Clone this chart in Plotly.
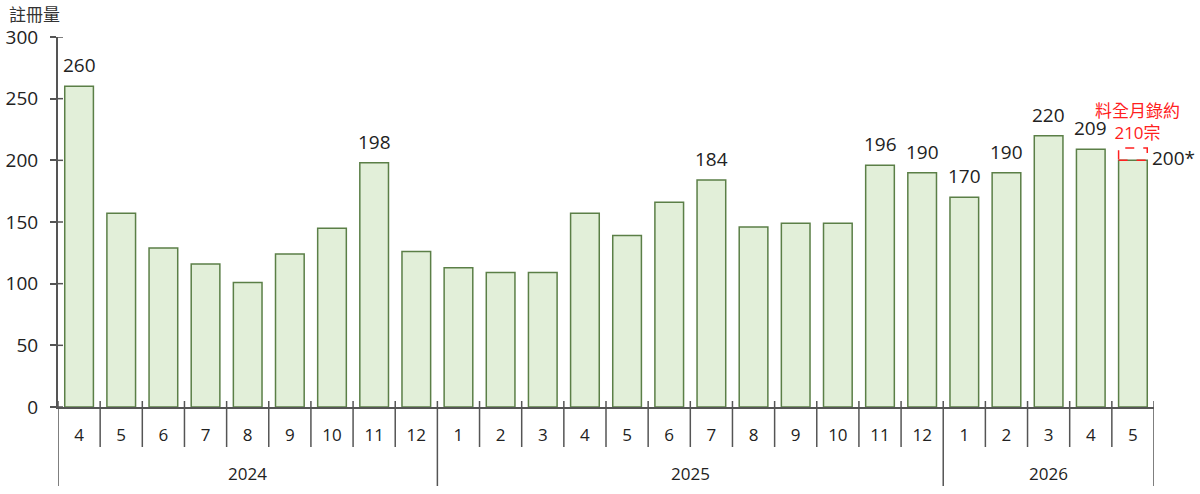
import plotly.graph_objects as go

# 每月註冊量
years = ["2024"] * 9 + ["2025"] * 12 + ["2026"] * 5
months = ["4", "5", "6", "7", "8", "9", "10", "11", "12",
          "1", "2", "3", "4", "5", "6", "7", "8", "9", "10", "11", "12",
          "1", "2", "3", "4", "5"]
values = [260, 157, 129, 116, 101, 124, 145, 198, 126,
          113, 109, 109, 157, 139, 166, 184, 146, 149, 149, 196, 190,
          170, 190, 220, 209, 200]
# 只標示部分數值
labels = ["260", "", "", "", "", "", "", "198", "",
          "", "", "", "", "", "", "184", "", "", "", "196", "190",
          "170", "190", "220", "209", ""]
last_label = "200*"
forecast = 210
forecast_text = "料全月錄約<br>210宗"
y_ticks = [0, 50, 100, 150, 200, 250, 300]

# 每個月一個唯一的類別
keys = [f"{y}-{m}" for y, m in zip(years, months)]
n = len(keys)
plot_w, plot_h = 1096.0, 370.0
axis_col = "#555555"

fig = go.Figure()
fig.add_trace(go.Bar(
    x=keys,
    y=values,
    marker=dict(color="#e2efd9", line=dict(color="#5b7f47", width=1.5)),
    hoverinfo="y",
))

for k, v, t in zip(keys, values, labels):
    if t:
        fig.add_annotation(x=k, y=v, text=t, showarrow=False,
                           yanchor="bottom", yshift=6,
                           font=dict(size=19, color="#222222"))

# 最後一個月
fig.add_annotation(x=keys[-1], y=values[-1], text=last_label,
                   showarrow=False, xanchor="left", xshift=17, yshift=2,
                   font=dict(size=19, color="#222222"))
fig.add_annotation(x=keys[-1], y=forecast, text=forecast_text,
                   showarrow=False, yanchor="bottom", yshift=2, xshift=5,
                   font=dict(size=17, color="#ff2020"))
fig.add_shape(type="rect", xref="x", yref="y",
              x0=n - 1 - 0.34, x1=n - 1 + 0.34,
              y0=values[-1], y1=forecast,
              line=dict(color="#ff2020", width=1.5, dash="dash"))

# 月份分隔線及年份分隔線
for i in range(n + 1):
    new_year = i in (0, n) or years[i] != years[i - 1]
    depth = 79 if new_year else 40
    fig.add_shape(type="line", xref="x", yref="paper",
                  x0=i - 0.5, x1=i - 0.5, y0=6 / plot_h, y1=-depth / plot_h,
                  line=dict(color=axis_col, width=1.5))

# y 軸刻度穿過軸線
for v in y_ticks:
    fig.add_shape(type="line", xref="paper", yref="y",
                  x0=0, x1=5 / plot_w, y0=v, y1=v,
                  line=dict(color=axis_col, width=1.5))

# 年份標籤
for yr in sorted(set(years)):
    idx = [i for i, y in enumerate(years) if y == yr]
    fig.add_annotation(x=(idx[0] + idx[-1]) / 2, xref="x",
                       y=-66 / plot_h, yref="paper", yanchor="middle",
                       text=yr, showarrow=False,
                       font=dict(size=17, color="#222222"))

fig.add_annotation(xref="paper", yref="paper", x=-0.046, y=1 + 23 / plot_h,
                   xanchor="left", yanchor="middle", text="註冊量",
                   showarrow=False, borderpad=0,
                   font=dict(size=17, color="#333333",
                             family="Noto Sans CJK TC"))

fig.update_layout(
    width=1200, height=494,
    margin=dict(l=58, r=46, t=37, b=87),
    plot_bgcolor="white", paper_bgcolor="white",
    bargap=0.32,
    showlegend=False,
    font=dict(family="Open Sans, Noto Sans CJK TC", size=15, color="#222222"),
)
fig.update_xaxes(
    type="category", range=[-0.5, n - 0.5],
    tickvals=keys, ticktext=months,
    showline=True, linecolor=axis_col, linewidth=2,
    ticks="", ticklabelstandoff=12, automargin=False,
    tickfont=dict(size=17),
)
fig.update_yaxes(
    range=[0, 300], tickvals=y_ticks,
    showline=True, linecolor=axis_col, linewidth=2,
    ticks="outside", ticklen=6, tickcolor=axis_col, tickwidth=1.5,
    ticklabelstandoff=8, automargin=False,
    showgrid=False, zeroline=False,
    tickfont=dict(size=19),
)

# 去掉頁面預設邊距，讓圖表貼齊視窗
fig.write_html("out.html", config={"displayModeBar": False},
               post_script="document.body.style.margin='0';")
